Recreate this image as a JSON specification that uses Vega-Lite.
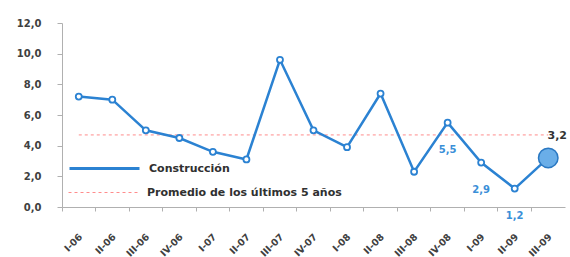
{
  "$schema": "https://vega.github.io/schema/vega-lite/v6.json",
  "width": 503,
  "height": 184,
  "autosize": {"type": "none"},
  "padding": {"left": 62, "top": 23, "right": 5, "bottom": 50},
  "background": "white",
  "config": {
    "view": {"stroke": null},
    "font": "DejaVu Sans",
    "locale": {"number": {"decimal": ",", "thousands": ".", "grouping": [3], "currency": ["", " €"]}},
    "axisY": {
      "title": null, "format": ".1f", "labelOverlap": false, "tickCount": 7,
      "labelFontSize": 10, "labelFontWeight": "bold", "labelColor": "#404040",
      "labelPadding": 16, "domainColor": "#b0b0b0", "tickColor": "#b0b0b0", "tickSize": 5, "grid": false
    },
    "legend": {
      "title": null, "orient": "none", "labelFontSize": 11, "labelFontWeight": "bold",
      "labelColor": "#303030", "labelOffset": 8, "labelLimit": 300,
      "symbolType": "stroke", "symbolSize": 4900
    }
  },
  "data": {
    "values": [
      {"q": "I-06", "c": 7.2, "p": 4.7},
      {"q": "II-06", "c": 7.0, "p": 4.7},
      {"q": "III-06", "c": 5.0, "p": 4.7},
      {"q": "IV-06", "c": 4.5, "p": 4.7},
      {"q": "I-07", "c": 3.6, "p": 4.7},
      {"q": "II-07", "c": 3.1, "p": 4.7},
      {"q": "III-07", "c": 9.6, "p": 4.7},
      {"q": "IV-07", "c": 5.0, "p": 4.7},
      {"q": "I-08", "c": 3.9, "p": 4.7},
      {"q": "II-08", "c": 7.4, "p": 4.7},
      {"q": "III-08", "c": 2.3, "p": 4.7},
      {"q": "IV-08", "c": 5.5, "p": 4.7},
      {"q": "I-09", "c": 2.9, "p": 4.7},
      {"q": "II-09", "c": 1.2, "p": 4.7},
      {"q": "III-09", "c": 3.2, "p": 4.7}
    ]
  },
  "encoding": {
    "x": {
      "field": "q", "type": "nominal", "bandPosition": 0.5,
      "sort": ["I-06","II-06","III-06","IV-06","I-07","II-07","III-07","IV-07","I-08","II-08","III-08","IV-08","I-09","II-09","III-09"],
      "scale": {"type": "band", "paddingInner": 0, "paddingOuter": 0},
      "axis": {
        "title": null, "bandPosition": 0, "labelOffset": 2,
        "labelAngle": -45, "labelAlign": "right", "labelBaseline": "middle",
        "labelPadding": 24, "labelFontSize": 9.5, "labelFontWeight": "bold", "labelColor": "#404040",
        "labelOverlap": false,
        "domainColor": "#b0b0b0", "tickColor": "#b0b0b0", "tickSize": 4, "grid": false
      }
    }
  },
  "layer": [
    {
      "mark": {"type": "line", "color": "#ff8c8c", "strokeWidth": 1},
      "encoding": {
        "y": {"field": "p", "type": "quantitative", "scale": {"domain": [0, 12], "nice": false}},
        "strokeDash": {
          "datum": "Promedio de los últimos 5 años",
          "scale": {"range": [[3, 3]]},
          "legend": {"legendX": 6, "legendY": 134, "symbolStrokeColor": "#ff8c8c", "symbolStrokeWidth": 1}
        }
      }
    },
    {
      "mark": {"type": "line", "strokeWidth": 2.5},
      "encoding": {
        "y": {"field": "c", "type": "quantitative"},
        "color": {
          "datum": "Construcción",
          "scale": {"range": ["#2b82d2"]},
          "legend": {"legendX": 6, "legendY": 109, "symbolStrokeWidth": 3}
        }
      }
    },
    {
      "transform": [{"filter": "datum.q != 'III-09'"}],
      "mark": {"type": "point", "shape": "circle", "filled": true, "fill": "white", "opacity": 1, "stroke": "#2b82d2", "strokeWidth": 1.8, "size": 36},
      "encoding": {"y": {"field": "c", "type": "quantitative"}}
    },
    {
      "transform": [{"filter": "datum.q == 'III-09'"}],
      "mark": {"type": "point", "shape": "circle", "filled": true, "fill": "#6aaee8", "opacity": 1, "stroke": "#2a78c2", "strokeWidth": 1.5, "size": 380},
      "encoding": {"y": {"field": "c", "type": "quantitative"}}
    },
    {
      "transform": [{"filter": "datum.q == 'IV-08' || datum.q == 'I-09' || datum.q == 'II-09'"}],
      "mark": {"type": "text", "dy": 27, "fontSize": 10, "fontWeight": "bold", "color": "#3a8fd8"},
      "encoding": {
        "y": {"field": "c", "type": "quantitative"},
        "text": {"field": "c", "type": "quantitative", "format": ".1f"}
      }
    },
    {
      "transform": [{"filter": "datum.q == 'III-09'"}],
      "mark": {"type": "text", "dx": 9, "dy": -22, "fontSize": 11, "fontWeight": "bold", "color": "#333333"},
      "encoding": {
        "y": {"field": "c", "type": "quantitative"},
        "text": {"field": "c", "type": "quantitative", "format": ".1f"}
      }
    }
  ]
}
